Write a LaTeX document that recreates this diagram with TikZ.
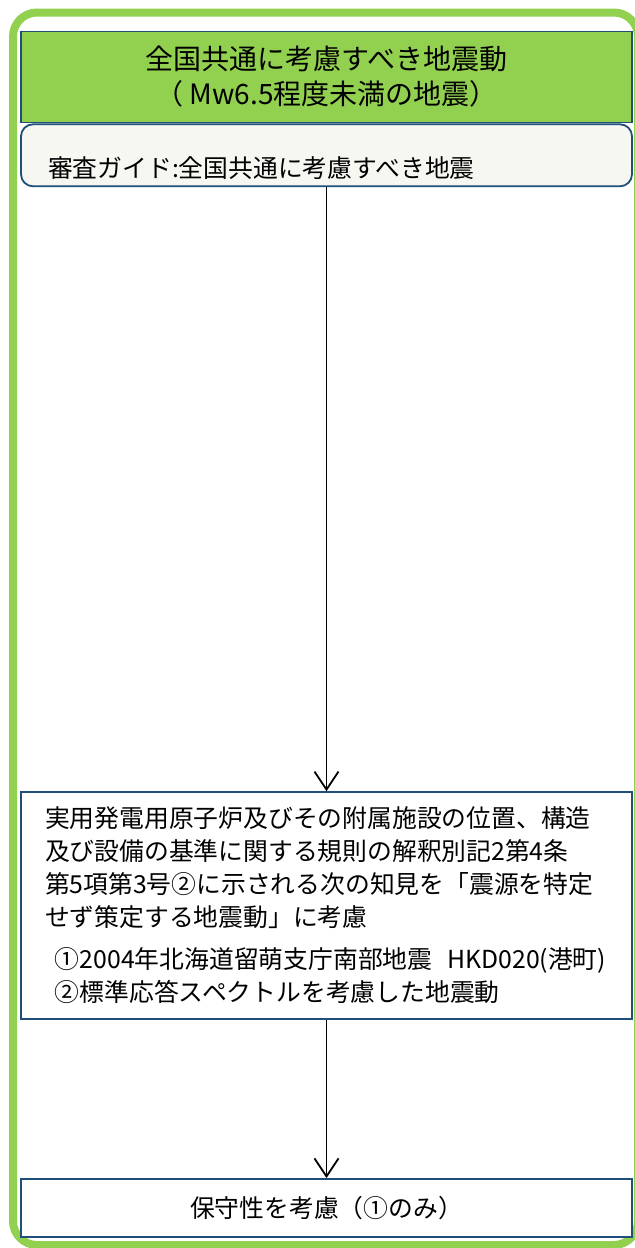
\documentclass[tikz,border=0pt]{standalone}
\usepackage{fontspec}
\setmainfont{Noto Sans CJK JP}
\usetikzlibrary{arrows.meta, positioning}
\definecolor{framegreen}{HTML}{92D050}
\definecolor{boxblue}{HTML}{1F4E79}
\definecolor{guidefill}{HTML}{F7F7F2}

\begin{document}
\begin{tikzpicture}[
    node distance=0pt,
    headbox/.style={
        rectangle,
        draw=boxblue,
        fill=framegreen,
        line width=0.9pt,
        minimum width=305.5pt,
        minimum height=45.5pt,
        align=center,
        font=\fontsize{14pt}{17.5pt}\selectfont
    },
    guidebox/.style={
        rectangle,
        draw=boxblue,
        fill=guidefill,
        line width=0.9pt,
        rounded corners=6pt,
        minimum width=305.5pt,
        minimum height=31pt,
        inner xsep=13.5pt,
        inner ysep=0pt,
        text width=278.5pt,
        text height=26.5pt,
        text depth=4.5pt,
        align=left,
        font=\fontsize{12.4pt}{16.5pt}\selectfont
    },
    rulebox/.style={
        rectangle,
        draw=boxblue,
        fill=white,
        line width=0.9pt,
        minimum width=305.5pt,
        minimum height=113.5pt,
        inner xsep=12pt,
        text width=281.5pt,
        align=left,
        font=\fontsize{12.4pt}{16.5pt}\selectfont
    },
    resultbox/.style={
        rectangle,
        draw=boxblue,
        fill=white,
        line width=0.9pt,
        minimum width=305.5pt,
        minimum height=29pt,
        align=center,
        font=\fontsize{12.4pt}{16.5pt}\selectfont
    },
    arrow/.style={
        -{Straight Barb[length=9pt, width=12pt]},
        line width=0.9pt,
        draw=black
    }
]
    \useasboundingbox (0pt,0pt) rectangle (317pt,-624pt);

    % Frame
    \draw [framegreen, line width=4pt, rounded corners=12pt]
        (6.5pt,-6.25pt) rectangle (319pt,-622.5pt);

    % Nodes
    \node [headbox] (head) at (163.25pt,-38.5pt) {全国共通に考慮すべき地震動\\（ Mw6.5程度未満の地震）};
    \node [guidebox, below=of head] (guide) {審査ガイド:全国共通に考慮すべき地震};
    \node [rulebox, below=302pt of guide] (rule) {実用発電用原子炉及びその附属施設の位置、構造\\
        及び設備の基準に関する規則の解釈別記2第4条\\
        第5項第3号②に示される次の知見を「震源を特定\\
        せず策定する地震動」に考慮\\[4.5pt]
        \mbox{\hspace*{5pt}①2004年北海道留萌支庁南部地震\hspace{0.6em}HKD020(港町)}\\
        \hspace*{5pt}②標準応答スペクトルを考慮した地震動};
    \node [resultbox, below=79pt of rule] (result) {保守性を考慮（①のみ）};

    % Arrows
    \draw [arrow] (guide) -- (rule);
    \draw [arrow] (rule) -- (result);
\end{tikzpicture}
\end{document}
